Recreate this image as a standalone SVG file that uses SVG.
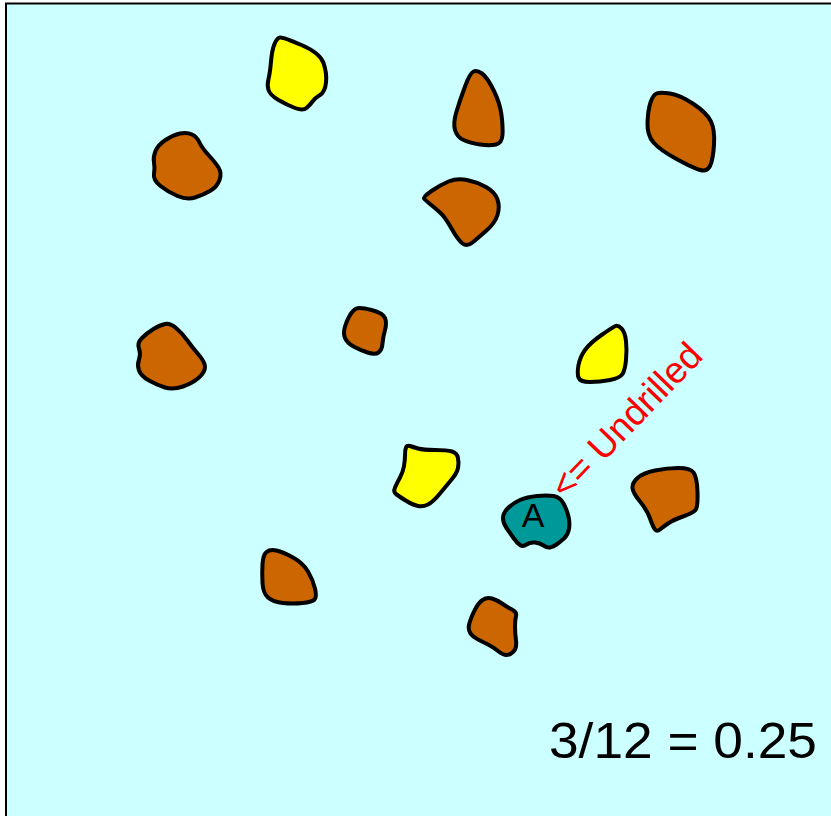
<svg xmlns="http://www.w3.org/2000/svg" width="831" height="816" viewBox="0 0 831 816">
<style>
.blob{stroke:#000;stroke-width:4;stroke-linejoin:round}
.brown{fill:#CC6600}
.yellow{fill:#FFFF00}
.teal{fill:#009999}
.t{font-family:"Liberation Sans",Arial,sans-serif}
</style>
<rect x="6" y="3.5" width="840" height="830" fill="#CCFFFF" stroke="#000" stroke-width="2"/>
<g id="y1"><path class="blob yellow" d="M280,37.5 Q283,37 301.5,45 Q320,53 323.5,63 Q327,73 326,82.5 Q325,92 320,95 Q315,98 312.5,101.5 Q310,105 306.5,108 Q303,111 295,108 Q287,105 278.5,100 Q270,95 268.5,90 Q267,85 268.5,79 Q270,73 271,61.5 Q272,50 274.5,44 Q277,38 280,37.5 Z"/></g>
<g id="b1"><path class="blob brown" d="M180,133.5 Q187,132 192,134.5 Q197,137 199.5,142.5 Q202,148 208.5,155 Q215,162 218.5,167.5 Q222,173 219.5,180 Q217,187 210,191 Q203,195 195,197.5 Q187,200 177.5,196 Q168,192 160.5,186 Q153,180 154,174 Q155,168 154,162.5 Q153,157 155.5,151 Q158,145 165.5,140 Q173,135 180,133.5 Z"/></g>
<g id="b2"><path class="blob brown" d="M473.5,71.5 Q477,70 482,73.5 Q487,77 493.5,90 Q500,103 501.5,115 Q503,127 502.5,135 Q502,143 496,144.5 Q490,146 480,144.5 Q470,143 463.5,140 Q457,137 455,130 Q453,123 456.5,111.5 Q460,100 465,86.5 Q470,73 473.5,71.5 Z"/></g>
<g id="b3"><path class="blob brown" d="M656.5,93.5 Q660,92 670,93.5 Q680,95 693.5,104 Q707,113 711,121.5 Q715,130 714,145 Q713,160 710,166 Q707,172 700,170 Q693,168 676.5,159 Q660,150 653.5,142.5 Q647,135 647.5,122.5 Q648,110 650.5,102.5 Q653,95 656.5,93.5 Z"/></g>
<g id="b4"><path class="blob brown" d="M424,198.5 Q423,197 431.5,191 Q440,185 448.5,181.5 Q457,178 467,180 Q477,182 486,187 Q495,192 497.5,199.5 Q500,207 497.5,215 Q495,223 486.5,230.5 Q478,238 472.5,242.5 Q467,247 462.5,243.5 Q458,240 451.5,228.5 Q445,217 440,212.5 Q435,208 430,204 Q425,200 424,198.5 Z"/></g>
<g id="b5"><path class="blob brown" d="M165,324 Q170,323 176,328 Q182,333 187,340 Q192,347 198.5,354.5 Q205,362 205,367 Q205,372 199,377.5 Q193,383 183,386.5 Q173,390 165,387.5 Q157,385 149,380.5 Q141,376 139,370.5 Q137,365 139,359.5 Q141,354 139,348.5 Q137,343 142,338 Q147,333 153.5,329 Q160,325 165,324 Z"/></g>
<g id="b6"><path class="blob brown" d="M356.5,308.5 Q360,307 371.5,310 Q383,313 385,318 Q387,323 385,330 Q383,337 382.5,343.5 Q382,350 378.5,352.5 Q375,355 367.5,352.5 Q360,350 353.5,346.5 Q347,343 345,338 Q343,333 345,326.5 Q347,320 350,315 Q353,310 356.5,308.5 Z"/></g>
<g id="y2"><path class="blob yellow" d="M615.5,326 Q618,325 621.5,328.5 Q625,332 626,341 Q627,350 626,360 Q625,370 622.5,374 Q620,378 610,380 Q600,382 590,382 Q580,382 578.5,377.5 Q577,373 578.5,365 Q580,357 585,350 Q590,343 601.5,335 Q613,327 615.5,326 Z"/></g>
<g id="y3"><path class="blob yellow" d="M406,447.5 Q407,445 410,446 Q413,447 418,448.5 Q423,450 435,450 Q447,450 452,451.5 Q457,453 458,458 Q459,463 458,468 Q457,473 452,479 Q447,485 440,493.5 Q433,502 428,504.5 Q423,507 418,506 Q413,505 406.5,501 Q400,497 396.5,494.5 Q393,492 395,487.5 Q397,483 400,477.5 Q403,472 404,466 Q405,460 405,455 Q405,450 406,447.5 Z"/></g>
<g id="A"><path class="blob teal" d="M503,518 Q503,513 508,508 Q513,503 520,500 Q527,497 537,496 Q547,495 553.5,496 Q560,497 563.5,503.5 Q567,510 568.5,516.5 Q570,523 569,529 Q568,535 564,538.5 Q560,542 556.5,544.5 Q553,547 550,547.5 Q547,548 543.5,545.5 Q540,543 535,542.5 Q530,542 526.5,544.5 Q523,547 520,545 Q517,543 513.5,538 Q510,533 506.5,528 Q503,523 503,518 Z"/>
<text class="t" x="533" y="527" font-size="34" text-anchor="middle" fill="#000">A</text></g>
<g id="b7"><path class="blob brown" d="M632.5,488 Q632,483 637.5,478 Q643,473 655,470.5 Q667,468 678.5,468 Q690,468 693.5,472.5 Q697,477 697.5,492 Q698,507 695.5,510 Q693,513 683,516.5 Q673,520 668,523.5 Q663,527 660,529.5 Q657,532 655,529.5 Q653,527 650,518.5 Q647,510 640,501.5 Q633,493 632.5,488 Z"/></g>
<g id="b8"><path class="blob brown" d="M266.5,552 Q270,549 276.5,550.5 Q283,552 293,557.5 Q303,563 308,571.5 Q313,580 315,588.5 Q317,597 314.5,599.5 Q312,602 302.5,603 Q293,604 283,603 Q273,602 268,597.5 Q263,593 262.5,583 Q262,573 262.5,564 Q263,555 266.5,552 Z"/></g>
<g id="b9"><path class="blob brown" d="M482.5,600 Q487,597 492,598.5 Q497,600 502,603.5 Q507,607 512,609.5 Q517,612 516,616 Q515,620 515,626.5 Q515,633 516,640.5 Q517,648 513.5,651.5 Q510,655 506.5,655 Q503,655 498,651 Q493,647 488,644.5 Q483,642 478,639.5 Q473,637 470.5,633.5 Q468,630 469,625 Q470,620 474,611.5 Q478,603 482.5,600 Z"/></g>
<g id="label-undrilled"><text class="t" transform="translate(566,501) rotate(-46)" font-size="37" fill="#FF0000">&lt;= Undrilled</text></g>
<g id="ratio"><text class="t" x="549" y="758" font-size="50" textLength="268" lengthAdjust="spacingAndGlyphs" fill="#000">3/12 = 0.25</text></g>
<g id="connectors"/>
</svg>
